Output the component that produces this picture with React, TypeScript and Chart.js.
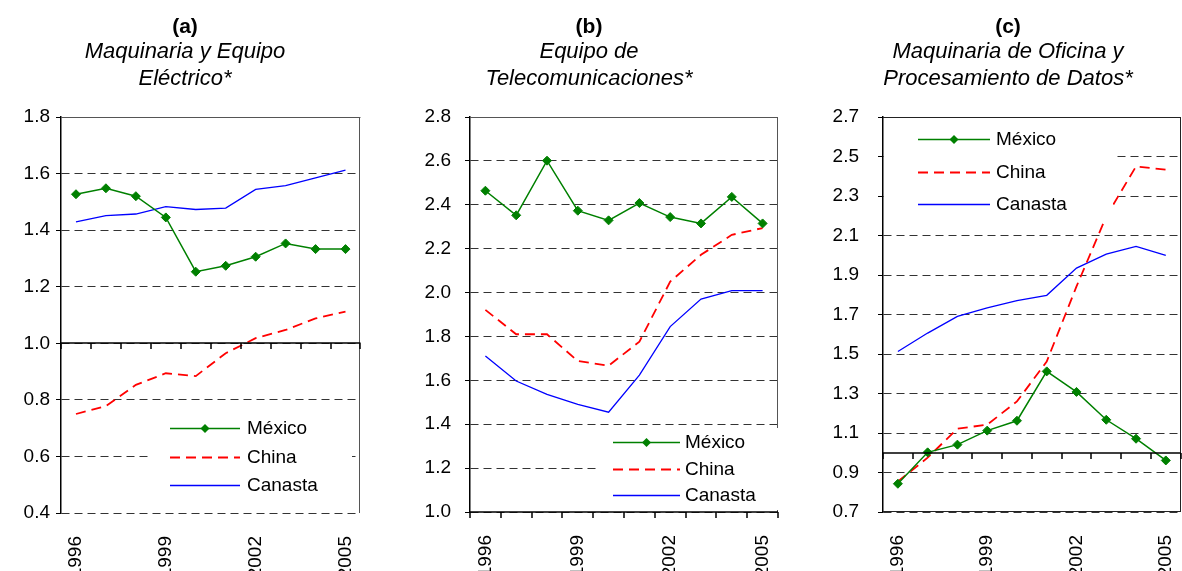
import React, { useEffect, useRef } from 'react';
import { Chart, registerables } from 'chart.js';

Chart.register(...registerables);
Chart.defaults.font.family = "'Liberation Sans', Arial, sans-serif";
Chart.defaults.color = '#000';

// ---------- data ----------
const years = ['1996', '1997', '1998', '1999', '2000', '2001', '2002', '2003', '2004', '2005'];
const shownYears = ['1996', '1999', '2002', '2005'];
const seriesNames = ['México', 'China', 'Canasta'];

const aMexico = [1.527, 1.548, 1.52, 1.445, 1.253, 1.274, 1.306, 1.353, 1.333, 1.333];
const aChina = [0.75, 0.778, 0.853, 0.894, 0.884, 0.965, 1.018, 1.047, 1.088, 1.112];
const aCanasta = [1.429, 1.451, 1.457, 1.483, 1.473, 1.478, 1.544, 1.557, 1.585, 1.612];
const aTicks = [0.4, 0.6, 0.8, 1.0, 1.2, 1.4, 1.6, 1.8];

const bMexico = [2.464, 2.352, 2.601, 2.373, 2.329, 2.408, 2.344, 2.315, 2.436, 2.315];
const bChina = [1.921, 1.81, 1.81, 1.688, 1.667, 1.776, 2.05, 2.172, 2.263, 2.294];
const bCanasta = [1.711, 1.597, 1.536, 1.49, 1.455, 1.624, 1.845, 1.97, 2.009, 2.009];
const bTicks = [1.0, 1.2, 1.4, 1.6, 1.8, 2.0, 2.2, 2.4, 2.6, 2.8];

const cMexico = [0.843, 1.002, 1.041, 1.112, 1.162, 1.412, 1.308, 1.167, 1.071, 0.961];
const cChina = [0.855, 0.975, 1.122, 1.142, 1.26, 1.462, 1.842, 2.197, 2.45, 2.433];
const cCanasta = [1.513, 1.606, 1.69, 1.733, 1.77, 1.797, 1.935, 2.006, 2.045, 1.999];
const cTicks = [0.7, 0.9, 1.1, 1.3, 1.5, 1.7, 1.9, 2.1, 2.3, 2.5, 2.7];

const titles = ['(a)', '(b)', '(c)'];
const subtitles = [
  ['Maquinaria y Equipo', 'Eléctrico*'],
  ['Equipo de', 'Telecomunicaciones*'],
  ['Maquinaria de Oficina y', 'Procesamiento de Datos*'],
];

// ---------- plugin: frame, crossing axis at 1.0, inset legend ----------
const framePlugin = {
  id: 'frame',
  afterDraw(chart: any, _args: any, opts: any) {
    const { ctx, chartArea: a, scales } = chart;
    const x = scales.x;
    const y = scales.y;
    ctx.save();
    ctx.strokeStyle = opts.frameColor;
    ctx.lineWidth = 1;
    ctx.setLineDash([]);
    ctx.beginPath();
    ctx.moveTo(a.left, Math.round(a.top) + 0.5);
    ctx.lineTo(a.right, Math.round(a.top) + 0.5);
    ctx.moveTo(Math.round(a.right) - 0.5, a.top);
    ctx.lineTo(Math.round(a.right) - 0.5, a.bottom);
    if (opts.bottomBorder) {
      ctx.moveTo(a.left, Math.round(a.bottom) - 0.5);
      ctx.lineTo(a.right, Math.round(a.bottom) - 0.5);
    }
    ctx.stroke();

    const yc = Math.round(y.getPixelForValue(opts.crossAt));
    const n = chart.data.labels.length;
    const step = (x.right - x.left) / n;
    ctx.strokeStyle = '#000';
    ctx.lineWidth = 1.5;
    ctx.beginPath();
    ctx.moveTo(a.left, yc);
    ctx.lineTo(a.right, yc);
    for (let i = 0; i <= n; i++) {
      const xx = Math.round(x.left + i * step);
      ctx.moveTo(xx, yc);
      ctx.lineTo(xx, yc + 6);
    }
    ctx.stroke();

    const L = opts.legend;
    ctx.fillStyle = '#fff';
    ctx.fillRect(a.left + L.boxX, a.top + L.boxY, L.boxW, L.boxH);
    chart.data.datasets.forEach((ds: any, i: number) => {
      const yy = Math.round(a.top + L.rowY + i * L.rowGap) + 0.5;
      const x0 = a.left + L.sampleX;
      const x1 = x0 + L.sampleW;
      ctx.strokeStyle = ds.borderColor;
      ctx.lineWidth = ds.borderWidth;
      ctx.setLineDash(ds.borderDash || []);
      ctx.beginPath();
      ctx.moveTo(x0, yy);
      ctx.lineTo(x1, yy);
      ctx.stroke();
      ctx.setLineDash([]);
      if (ds.pointRadius > 0) {
        const cx = (x0 + x1) / 2;
        const r = ds.pointRadius;
        ctx.fillStyle = ds.pointBackgroundColor;
        ctx.beginPath();
        ctx.moveTo(cx, yy - r);
        ctx.lineTo(cx + r, yy);
        ctx.lineTo(cx, yy + r);
        ctx.lineTo(cx - r, yy);
        ctx.closePath();
        ctx.fill();
      }
      ctx.fillStyle = '#000';
      ctx.font = "19px 'Liberation Sans', Arial, sans-serif";
      ctx.textBaseline = 'middle';
      ctx.textAlign = 'left';
      ctx.fillText(ds.label, a.left + L.textX, yy);
    });
    ctx.restore();
  },
};

type PanelProps = {
  left: number;
  width: number;
  padRight: number;
  yWidth: number;
  yPad: number;
  xHeight: number;
  title: string;
  subtitle: string[];
  mexico: number[];
  china: number[];
  canasta: number[];
  ticks: number[];
  crossAt: number;
  frameColor: string;
  bottomBorder: boolean;
  legend: any;
};

const CANVAS_H = 600;

function Panel(p: PanelProps) {
  const ref = useRef<HTMLCanvasElement | null>(null);
  useEffect(() => {
    if (!ref.current) return;
    const chart = new Chart(ref.current, {
      type: 'line',
      data: {
        labels: years,
        datasets: [
          {
            label: seriesNames[0],
            data: p.mexico,
            borderColor: '#008000',
            backgroundColor: '#008000',
            borderWidth: 1.5,
            pointStyle: 'rectRot',
            pointRadius: 4.5,
            pointBackgroundColor: '#008000',
            pointBorderColor: '#008000',
            pointBorderWidth: 1,
            tension: 0,
          },
          {
            label: seriesNames[1],
            data: p.china,
            borderColor: '#ff0000',
            backgroundColor: '#ff0000',
            borderWidth: 1.8,
            borderDash: [10, 6],
            pointRadius: 0,
            tension: 0,
          },
          {
            label: seriesNames[2],
            data: p.canasta,
            borderColor: '#0000ff',
            backgroundColor: '#0000ff',
            borderWidth: 1.3,
            pointRadius: 0,
            tension: 0,
          },
        ],
      } as any,
      options: {
        responsive: false,
        animation: false,
        devicePixelRatio: 1,
        events: [],
        layout: { padding: { left: 0, right: p.padRight, top: 0, bottom: 0 } },
        plugins: {
          legend: { display: false },
          tooltip: { enabled: false },
          title: {
            display: true,
            text: p.title,
            color: '#000',
            font: { size: 21, weight: 'bold', lineHeight: 1.0 },
            padding: { top: 17, bottom: 0 },
          },
          subtitle: {
            display: true,
            text: p.subtitle,
            color: '#000',
            font: { size: 22, style: 'italic', lineHeight: 27 / 22 },
            padding: { top: 0, bottom: 25 },
          },
          frame: {
            crossAt: p.crossAt,
            frameColor: p.frameColor,
            bottomBorder: p.bottomBorder,
            legend: p.legend,
          },
        } as any,
        scales: {
          x: {
            type: 'category',
            offset: true,
            grid: { display: false },
            border: { display: false },
            ticks: {
              autoSkip: false,
              minRotation: 90,
              maxRotation: 90,
              padding: 15,
              color: '#000',
              font: { size: 19 },
              callback: function (this: any, v: any) {
                const l = this.getLabelForValue(v);
                return shownYears.includes(l) ? l : '';
              },
            },
            afterFit: (s: any) => {
              s.height = p.xHeight;
            },
          },
          y: {
            type: 'linear',
            min: p.ticks[0],
            max: p.ticks[p.ticks.length - 1],
            afterBuildTicks: (s: any) => {
              s.ticks = p.ticks.map((v) => ({ value: v }));
            },
            ticks: {
              padding: p.yPad,
              color: '#000',
              font: { size: 19 },
              callback: (v: any) => Number(v).toFixed(1),
            },
            grid: { color: '#333', lineWidth: 1, tickColor: '#000', tickLength: 5, drawTicks: true },
            border: { display: true, color: '#000', width: 1.5, dash: [8, 5] },
            afterFit: (s: any) => {
              s.width = p.yWidth;
            },
          },
        },
      } as any,
      plugins: [framePlugin as any],
    });
    return () => chart.destroy();
  }, []);
  return (
    <div style={{ position: 'absolute', left: p.left, top: 0, width: p.width, height: CANVAS_H }}>
      <canvas ref={ref} width={p.width} height={CANVAS_H} style={{ display: 'block' }} />
    </div>
  );
}

export default function App() {
  return (
    <div
      style={{
        position: 'absolute',
        left: 0,
        top: 0,
        width: 1182,
        height: 571,
        overflow: 'hidden',
        background: '#fff',
      }}
    >
      <Panel
        left={0}
        width={384}
        padRight={14}
        yWidth={61}
        yPad={6}
        xHeight={87}
        title={titles[0]}
        subtitle={subtitles[0]}
        mexico={aMexico}
        china={aChina}
        canasta={aCanasta}
        ticks={aTicks}
        crossAt={1.0}
        frameColor="#555"
        bottomBorder={false}
        legend={{ boxX: 87, boxY: 295, boxW: 204, boxH: 88, sampleX: 109, sampleW: 70, textX: 186, rowY: 311, rowGap: 28.5 }}
      />
      <Panel
        left={400}
        width={408}
        padRight={30}
        yWidth={70}
        yPad={14}
        xHeight={88}
        title={titles[1]}
        subtitle={subtitles[1]}
        mexico={bMexico}
        china={bChina}
        canasta={bCanasta}
        ticks={bTicks}
        crossAt={1.0}
        frameColor="#555"
        bottomBorder={false}
        legend={{ boxX: 130, boxY: 311, boxW: 178, boxH: 82, sampleX: 143, sampleW: 67, textX: 215, rowY: 325, rowGap: 26.5 }}
      />
      <Panel
        left={820}
        width={384}
        padRight={8}
        yWidth={63}
        yPad={19}
        xHeight={88}
        title={titles[2]}
        subtitle={subtitles[2]}
        mexico={cMexico}
        china={cChina}
        canasta={cCanasta}
        ticks={cTicks}
        crossAt={1.0}
        frameColor="#222"
        bottomBorder={true}
        legend={{ boxX: 1, boxY: 1, boxW: 229, boxH: 102, sampleX: 35, sampleW: 72, textX: 113, rowY: 22, rowGap: 32.5 }}
      />
    </div>
  );
}
